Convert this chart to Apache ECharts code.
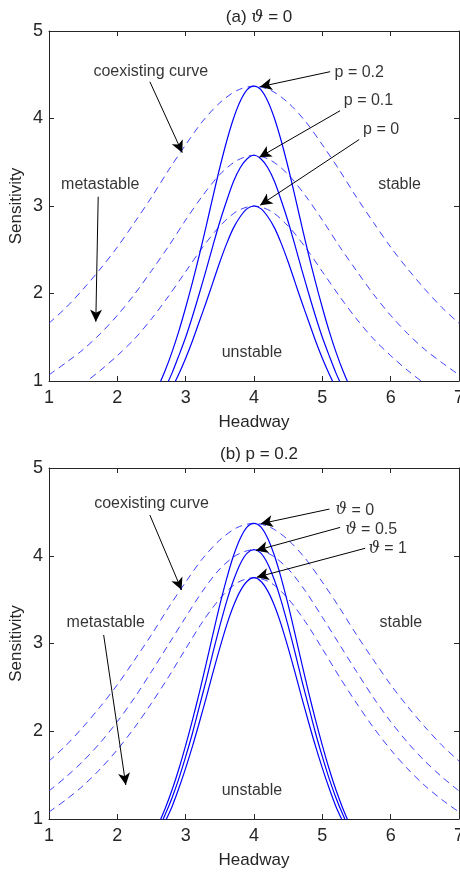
<!DOCTYPE html>
<html>
<head>
<meta charset="utf-8">
<script src="https://cdn.jsdelivr.net/npm/echarts@6/dist/echarts.min.js"></script>
<style>
html,body{margin:0;padding:0;background:#fff;}
#main{width:460px;height:875px;}
</style>
</head>
<body>
<div id="main"></div>
<script>
// ---------- data ----------
const xTickLabels = [1, 2, 3, 4, 5, 6, 7];
const yTickLabels = [1, 2, 3, 4, 5];

// Headway samples for the neutral-stability (solid) curves
const solidX = [2.5,2.6,2.7,2.8,2.9,3.0,3.1,3.2,3.3,3.4,3.5,3.6,3.7,3.8,3.9,4.0,4.1,4.2,4.3,4.4,4.5,4.6,4.7,4.8,4.9,5.0,5.1,5.2,5.3,5.4,5.5];
// Headway samples for the coexisting (dashed) curves
const dashedX = [1,1.25,1.5,1.75,2,2.25,2.5,2.75,3,3.25,3.5,3.75,4,4.25,4.5,4.75,5,5.25,5.5,5.75,6,6.25,6.5,6.75,7];

// (a) theta = 0 : neutral stability curves
const solidP02 = [0.79,0.94,1.12,1.33,1.57,1.84,2.13,2.44,2.77,3.11,3.44,3.74,4.00,4.20,4.33,4.37,4.33,4.20,4.00,3.74,3.44,3.11,2.77,2.44,2.13,1.84,1.57,1.33,1.12,0.94,0.79];
const solidP01 = [0.65,0.77,0.92,1.09,1.29,1.50,1.74,2.00,2.27,2.55,2.82,3.06,3.28,3.44,3.54,3.58,3.54,3.44,3.28,3.06,2.82,2.55,2.27,2.00,1.74,1.50,1.29,1.09,0.92,0.77,0.65];
const solidP0  = [0.54,0.65,0.77,0.92,1.08,1.26,1.46,1.68,1.90,2.13,2.36,2.57,2.75,2.88,2.97,3.00,2.97,2.88,2.75,2.57,2.36,2.13,1.90,1.68,1.46,1.26,1.08,0.92,0.77,0.65,0.54];
// (a) coexisting curves
const dashP02 = [1.66,1.84,2.05,2.28,2.53,2.81,3.10,3.41,3.70,3.97,4.18,4.32,4.37,4.32,4.18,3.97,3.70,3.41,3.10,2.81,2.53,2.28,2.05,1.84,1.66];
const dashP01 = [1.07,1.21,1.36,1.54,1.75,1.99,2.26,2.54,2.84,3.12,3.36,3.52,3.58,3.52,3.36,3.12,2.84,2.54,2.26,1.99,1.75,1.54,1.36,1.21,1.07];
const dashP0  = [0.75,0.85,0.97,1.12,1.29,1.48,1.71,1.97,2.25,2.53,2.77,2.94,3.00,2.94,2.77,2.53,2.25,1.97,1.71,1.48,1.29,1.12,0.97,0.85,0.75];

// (b) p = 0.2 : neutral stability curves
const solidT0  = [0.79,0.94,1.12,1.33,1.57,1.84,2.13,2.44,2.77,3.11,3.44,3.74,4.00,4.20,4.33,4.37,4.33,4.20,4.00,3.74,3.44,3.11,2.77,2.44,2.13,1.84,1.57,1.33,1.12,0.94,0.79];
const solidT05 = [0.74,0.88,1.05,1.24,1.46,1.71,1.98,2.28,2.58,2.90,3.20,3.48,3.72,3.91,4.03,4.07,4.03,3.91,3.72,3.48,3.20,2.90,2.58,2.28,1.98,1.71,1.46,1.24,1.05,0.88,0.74];
const solidT1  = [0.68,0.81,0.97,1.14,1.35,1.58,1.83,2.10,2.38,2.67,2.95,3.21,3.43,3.60,3.71,3.75,3.71,3.60,3.43,3.21,2.95,2.67,2.38,2.10,1.83,1.58,1.35,1.14,0.97,0.81,0.68];
// (b) coexisting curves
const dashT0  = [1.66,1.84,2.05,2.28,2.53,2.81,3.10,3.41,3.70,3.97,4.18,4.32,4.37,4.32,4.18,3.97,3.70,3.41,3.10,2.81,2.53,2.28,2.05,1.84,1.66];
const dashT05 = [1.32,1.48,1.66,1.87,2.11,2.38,2.68,2.99,3.30,3.60,3.85,4.01,4.07,4.01,3.85,3.60,3.30,2.99,2.68,2.38,2.11,1.87,1.66,1.48,1.32];
const dashT1  = [1.08,1.22,1.38,1.57,1.79,2.04,2.32,2.62,2.94,3.25,3.51,3.69,3.75,3.69,3.51,3.25,2.94,2.62,2.32,2.04,1.79,1.57,1.38,1.22,1.08];

// annotations: [text, x, y] in data units
const textsA = [
  ['coexisting curve', 2.49, 4.535],
  ['metastable', 1.75, 3.25],
  ['p = 0.2', 5.54, 4.528],
  ['p = 0.1', 5.676, 4.21],
  ['p = 0', 5.86, 3.877],
  ['stable', 6.13, 3.24],
  ['unstable', 3.97, 1.32]
];
const arrowsA = [
  [2.476, 4.42, 2.95, 3.61],
  [1.72, 3.106, 1.685, 1.678],
  [5.114, 4.535, 4.088, 4.363],
  [5.26, 4.089, 4.078, 3.557],
  [5.54, 3.76, 4.09, 3.01]
];
const textsB = [
  ['coexisting curve', 2.50, 4.59],
  ['metastable', 1.83, 3.24],
  ['{t|ϑ} = 0', 5.476, 4.52],
  ['{t|ϑ} = 0.5', 5.715, 4.30],
  ['{t|ϑ} = 1', 5.957, 4.077],
  ['stable', 6.15, 3.24],
  ['unstable', 3.97, 1.32]
];
const arrowsB = [
  [2.476, 4.464, 2.94, 3.61],
  [1.80, 3.097, 2.124, 1.387],
  [5.104, 4.532, 4.098, 4.365],
  [5.26, 4.323, 4.03, 4.06],
  [5.627, 4.085, 4.04, 3.755]
];

// ---------- chart ----------
const FONT = 'Liberation Sans, Arial, Helvetica, sans-serif';
const AX = '#262626';
const thetaRich = { t: { fontFamily: 'DejaVu Serif, Liberation Serif, serif', fontStyle: 'italic', fontSize: 16, color: '#000' } };

function pairs(xs, ys) { return xs.map((x, i) => [x, ys[i]]); }

function xAxisDef(gi, pos, showLabel) {
  return {
    type: 'value', gridIndex: gi, position: pos,
    min: xTickLabels[0], max: xTickLabels[xTickLabels.length - 1], interval: 1,
    axisLine: { show: true, onZero: false, lineStyle: { color: AX, width: 1 } },
    axisTick: { show: true, inside: true, length: 5, lineStyle: { color: AX, width: 1 } },
    axisLabel: { show: showLabel, margin: 8, fontSize: 18, color: AX, fontFamily: FONT },
    splitLine: { show: false },
    name: showLabel ? 'Headway' : '',
    nameLocation: 'middle', nameGap: 33, nameMoveOverlap: false,
    nameTextStyle: { fontSize: 17, color: AX, fontFamily: FONT }
  };
}
function yAxisDef(gi, pos, showLabel) {
  return {
    type: 'value', gridIndex: gi, position: pos,
    min: yTickLabels[0], max: yTickLabels[yTickLabels.length - 1], interval: 1,
    axisLine: { show: true, onZero: false, lineStyle: { color: AX, width: 1 } },
    axisTick: { show: true, inside: true, length: 5, lineStyle: { color: AX, width: 1 } },
    axisLabel: { show: showLabel, margin: 6, fontSize: 18, color: AX, fontFamily: FONT },
    splitLine: { show: false },
    name: showLabel ? 'Sensitivity' : '',
    nameLocation: 'middle', nameGap: 24, nameMoveOverlap: false,
    nameTextStyle: { fontSize: 17, color: AX, fontFamily: FONT }
  };
}

function solid(xi, yi, ys) {
  return { type: 'line', xAxisIndex: xi, yAxisIndex: yi, data: pairs(solidX, ys), showSymbol: false, symbol: 'none',
    smooth: 0.3, clip: true, lineStyle: { color: '#0000ff', width: 1.2 }, silent: true };
}
function dashed(xi, yi, ys) {
  return { type: 'line', xAxisIndex: xi, yAxisIndex: yi, data: pairs(dashedX, ys), showSymbol: false, symbol: 'none',
    smooth: 0.3, clip: true, lineStyle: { color: '#2a2aff', width: 0.9, type: [7, 5] }, silent: true };
}
function annot(xi, yi, texts, arrows) {
  return {
    type: 'scatter', xAxisIndex: xi, yAxisIndex: yi, symbolSize: 1, silent: true,
    itemStyle: { color: 'rgba(0,0,0,0)' },
    data: texts.map(t => ({ value: [t[1], t[2]], name: t[0] })),
    label: { show: true, position: 'inside', formatter: p => p.name, color: '#000', fontSize: 16, fontFamily: FONT, rich: thetaRich },
    markLine: {
      silent: true, symbol: ['none', 'arrow'], symbolSize: [9, 12],
      lineStyle: { color: '#000', width: 1, type: 'solid' },
      label: { show: false },
      data: arrows.map(a => [{ coord: [a[0], a[1]] }, { coord: [a[2], a[3]] }])
    }
  };
}

const chart = echarts.init(document.getElementById('main'), null, { renderer: 'canvas' });
chart.setOption({
  animation: false,
  backgroundColor: '#fff',
  title: [
    { text: '(a) {t|ϑ} = 0', left: 254, top: 4, textAlign: 'center',
      textStyle: { fontSize: 17, fontWeight: 'normal', color: AX, fontFamily: FONT,
        rich: { t: { fontFamily: 'DejaVu Serif, Liberation Serif, serif', fontStyle: 'italic', fontSize: 17, color: AX } } } },
    { text: '(b) p = 0.2', left: 254, top: 441, textAlign: 'center',
      textStyle: { fontSize: 17, fontWeight: 'normal', color: AX, fontFamily: FONT } }
  ],
  grid: [
    { left: 49, top: 31, width: 410, height: 350, outerBoundsMode: 'none', containLabel: false },
    { left: 49, top: 468, width: 410, height: 351, outerBoundsMode: 'none', containLabel: false }
  ],
  xAxis: [xAxisDef(0, 'bottom', true), xAxisDef(0, 'top', false), xAxisDef(1, 'bottom', true), xAxisDef(1, 'top', false)],
  yAxis: [yAxisDef(0, 'left', true), yAxisDef(0, 'right', false), yAxisDef(1, 'left', true), yAxisDef(1, 'right', false)],
  series: [
    dashed(0, 0, dashP02), dashed(0, 0, dashP01), dashed(0, 0, dashP0),
    solid(0, 0, solidP02), solid(0, 0, solidP01), solid(0, 0, solidP0),
    annot(0, 0, textsA, arrowsA),
    dashed(2, 2, dashT0), dashed(2, 2, dashT05), dashed(2, 2, dashT1),
    solid(2, 2, solidT0), solid(2, 2, solidT05), solid(2, 2, solidT1),
    annot(2, 2, textsB, arrowsB)
  ]
});
</script>
</body>
</html>
